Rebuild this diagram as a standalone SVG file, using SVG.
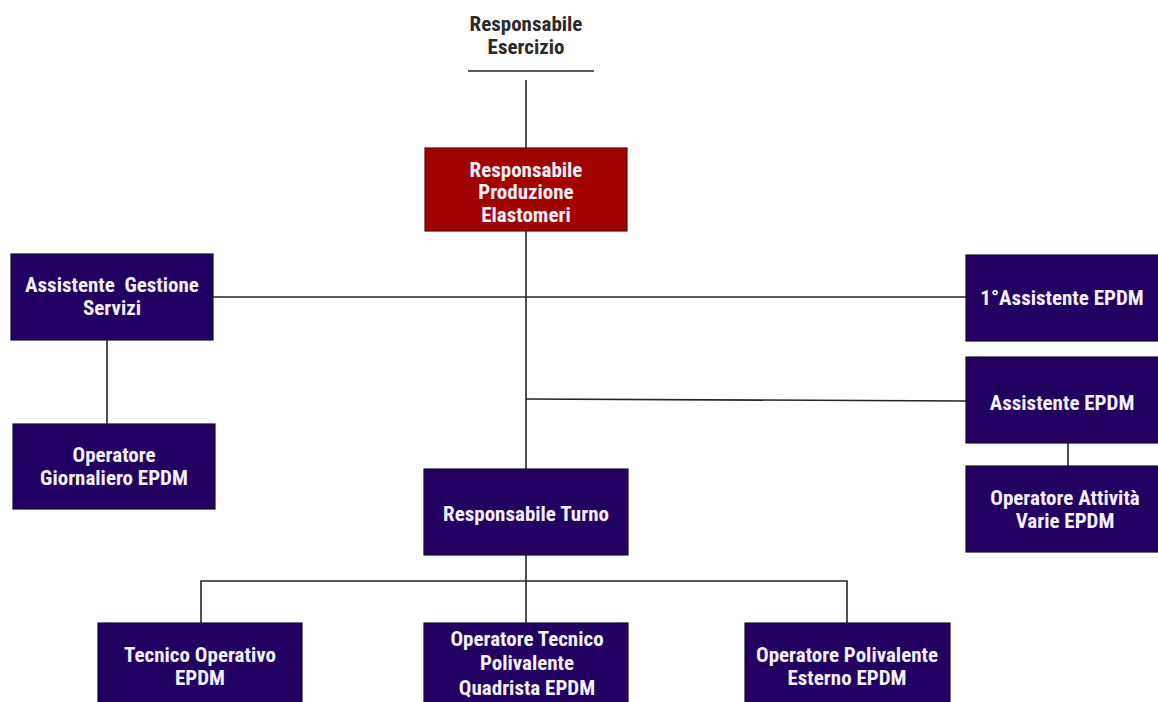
<svg xmlns="http://www.w3.org/2000/svg" width="1158" height="702" viewBox="0 0 1158 702">
  <style>
    .box { fill: #210062; stroke: #14102a; stroke-width: 1.2; }
    .red { fill: #a10303; stroke: #5a0a0a; stroke-width: 1.2; }
    .lbl { font-family: "Liberation Sans Narrow", "Roboto Condensed", "Liberation Sans", Arial, sans-serif; font-weight: bold; font-size: 21px; fill: #f4f0fa; text-anchor: middle; white-space: pre; }
    .dark { fill: #2a2a2a; }
    .wire { stroke: #252525; stroke-width: 1.6; fill: none; }
  </style>
  <rect width="1158" height="702" fill="#ffffff"/>

  <!-- connectors -->
  <g id="connectors">
    <line class="wire" x1="468" y1="71" x2="594" y2="71"/>
    <line class="wire" x1="526" y1="80" x2="526" y2="148"/>
    <line class="wire" x1="526" y1="231" x2="526" y2="469"/>
    <line class="wire" x1="213" y1="297" x2="966" y2="297"/>
    <line class="wire" x1="107" y1="340" x2="107" y2="424"/>
    <line class="wire" x1="526" y1="399" x2="966" y2="401"/>
    <line class="wire" x1="1068" y1="443" x2="1068" y2="466"/>
    <line class="wire" x1="526" y1="555" x2="526" y2="623"/>
    <polyline class="wire" points="201,623 201,581 847,581 847,623"/>
  </g>

  <!-- top label -->
  <g id="responsabile-esercizio">
    <text class="lbl dark" x="526" y="31">Responsabile</text>
    <text class="lbl dark" x="526" y="54">Esercizio</text>
  </g>

  <g id="responsabile-produzione">
    <rect class="red" x="425" y="148" width="202" height="83"/>
    <text class="lbl" x="526" y="177">Responsabile</text>
    <text class="lbl" x="526" y="199">Produzione</text>
    <text class="lbl" x="526" y="222">Elastomeri</text>
  </g>

  <g id="assistente-gestione">
    <rect class="box" x="11" y="254" width="202" height="86"/>
    <text class="lbl" x="112" y="292">Assistente  Gestione</text>
    <text class="lbl" x="112" y="315">Servizi</text>
  </g>

  <g id="operatore-giornaliero">
    <rect class="box" x="13" y="424" width="202" height="85"/>
    <text class="lbl" x="114" y="462">Operatore</text>
    <text class="lbl" x="114" y="485">Giornaliero EPDM</text>
  </g>

  <g id="primo-assistente">
    <rect class="box" x="966" y="255" width="204" height="86"/>
    <text class="lbl" x="1062" y="305">1°Assistente EPDM</text>
  </g>

  <g id="assistente-epdm">
    <rect class="box" x="966" y="357" width="204" height="86"/>
    <text class="lbl" x="1062" y="410">Assistente EPDM</text>
  </g>

  <g id="operatore-attivita">
    <rect class="box" x="966" y="466" width="204" height="86"/>
    <text class="lbl" x="1065" y="505">Operatore Attività</text>
    <text class="lbl" x="1065" y="528">Varie EPDM</text>
  </g>

  <g id="responsabile-turno">
    <rect class="box" x="424" y="469" width="204" height="86"/>
    <text class="lbl" x="526" y="521">Responsabile Turno</text>
  </g>

  <g id="tecnico-operativo">
    <rect class="box" x="98" y="623" width="204" height="90"/>
    <text class="lbl" x="200" y="662">Tecnico Operativo</text>
    <text class="lbl" x="200" y="685">EPDM</text>
  </g>

  <g id="operatore-tecnico">
    <rect class="box" x="424" y="623" width="204" height="90"/>
    <text class="lbl" x="527" y="646">Operatore Tecnico</text>
    <text class="lbl" x="527" y="670">Polivalente</text>
    <text class="lbl" x="527" y="695">Quadrista EPDM</text>
  </g>

  <g id="operatore-polivalente">
    <rect class="box" x="745" y="623" width="205" height="90"/>
    <text class="lbl" x="847" y="662">Operatore Polivalente</text>
    <text class="lbl" x="847" y="685">Esterno EPDM</text>
  </g>
</svg>
